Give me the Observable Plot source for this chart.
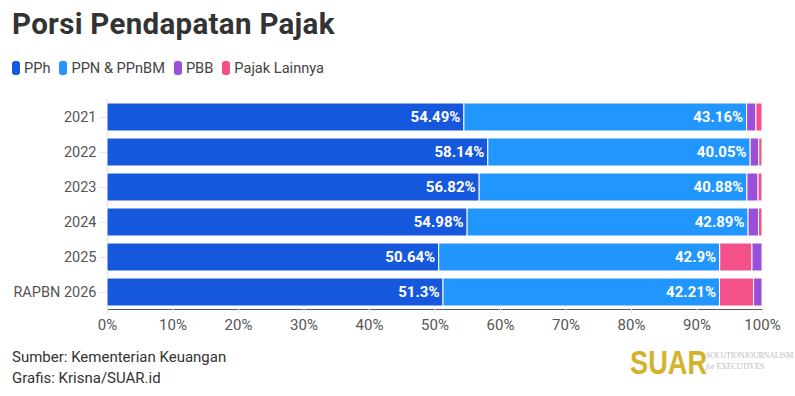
<!DOCTYPE html>
<html>
<head>
<meta charset="utf-8">
<script src="https://cdn.jsdelivr.net/npm/d3@7"></script>
<script src="https://cdn.jsdelivr.net/npm/@observablehq/plot@0.6"></script>
<style>
  body { margin: 0; background: #fff; font-family: Roboto, "Noto Sans", sans-serif; }
  #wrap { position: relative; width: 795px; height: 396px; overflow: hidden; }
  #title { position: absolute; left: 12px; top: 7px; font-size: 29.5px; font-weight: 700; color: #333; letter-spacing: 0.3px; white-space: nowrap; }
  #legend { position: absolute; left: 12px; top: 59px; display: flex; gap: 9px; font-size: 14.6px; color: #444; white-space: nowrap; }
  #legend .item { display: flex; align-items: center; gap: 4px; }
  #legend .sw { width: 8px; height: 14px; border-radius: 3px; display: inline-block; }
  #chart { position: absolute; left: 0; top: 88px; }
  #footer { position: absolute; left: 12px; top: 347px; font-size: 15px; color: #333; line-height: 21px; white-space: nowrap; }
  #logo { position: absolute; left: 630px; top: 343px; font-family: "Liberation Sans Narrow", "Liberation Sans", sans-serif; font-weight: 700; font-size: 34px; color: #d4b22c; transform: scaleX(0.8); transform-origin: left top; white-space: nowrap; }
  #logo2 { position: absolute; left: 706px; top: 350px; font-family: "Liberation Serif", serif; font-size: 8px; color: #bbb; line-height: 11px; white-space: nowrap; letter-spacing: -0.2px; }
</style>
</head>
<body>
<div id="wrap">
  <div id="title">Porsi Pendapatan Pajak</div>
  <div id="legend"></div>
  <div id="chart"></div>
  <div id="footer">Sumber: Kementerian Keuangan<br>Grafis: Krisna/SUAR.id</div>
  <div id="logo">SUAR</div>
  <div id="logo2">SOLUTIONJOURNALISM<br><i>for</i> EXECUTIVES</div>
</div>
<script>
const years = ["2021", "2022", "2023", "2024", "2025", "RAPBN 2026"];
const seriesNames = ["PPh", "PPN & PPnBM", "PBB", "Pajak Lainnya"];
const seriesColors = ["#1658dd", "#2196ff", "#994fd8", "#f4508a"];
const pph = [54.49, 58.14, 56.82, 54.98, 50.64, 51.3];
const ppn = [43.16, 40.05, 40.88, 42.89, 42.9, 42.21];
const pbb = [1.42, 1.31, 1.7, 1.6, 1.56, 1.29];
const lainnya = [0.93, 0.5, 0.6, 0.53, 4.9, 5.2];
const labelled = ["PPh", "PPN & PPnBM"];
const xTicks = [0, 10, 20, 30, 40, 50, 60, 70, 80, 90, 100];

const seriesValues = [pph, ppn, pbb, lainnya];
const data = [];
years.forEach((yr, i) => {
  seriesNames.forEach((s, k) => data.push({year: yr, type: s, value: seriesValues[k][i]}));
});

// legend
const legend = document.getElementById("legend");
seriesNames.forEach((s, k) => {
  const it = document.createElement("span");
  it.className = "item";
  it.innerHTML = `<span class="sw" style="background:${seriesColors[k]}"></span><span>${s}</span>`;
  legend.appendChild(it);
});

const chart = Plot.plot({
  width: 795,
  height: 250,
  marginTop: 11,
  marginBottom: 29,
  marginLeft: 107,
  marginRight: 33,
  style: {fontFamily: "Roboto, sans-serif", fontSize: "14.5px", color: "#555", background: "transparent", overflow: "visible"},
  x: {domain: [0, 100], ticks: xTicks, tickFormat: d => d + "%", label: null, tickSize: 5, tickPadding: 5, line: true},
  y: {domain: years, label: null, paddingInner: 0.2, paddingOuter: 0.1, tickSize: 7, tickPadding: 4},
  color: {domain: seriesNames, range: seriesColors},
  marks: [
    Plot.ruleX([0], {stroke: "#e8e8e8", strokeWidth: 2}),
    Plot.barX(data, Plot.stackX({x: "value", y: "year", fill: "type", order: "-value", stroke: "white", strokeWidth: 1})),
    Plot.text(data, Plot.stackX2({
      x: "value", y: "year", order: "-value",
      text: d => labelled.includes(d.type) ? d.value + "%" : "",
      textAnchor: "end", dx: -4, fill: "white", fontWeight: 700, fontSize: 15
    }))
  ]
});
document.getElementById("chart").appendChild(chart);

// style axis lines/ticks light gray
chart.querySelectorAll('[aria-label="x-axis tick"], [aria-label="y-axis tick"], [aria-label="x-axis line"]').forEach(g => {
  g.setAttribute("stroke", "#e4e4e4");
});
chart.querySelectorAll('[aria-label="x-axis tick label"]').forEach(g => g.setAttribute("font-size", "15"));
</script>
</body>
</html>
